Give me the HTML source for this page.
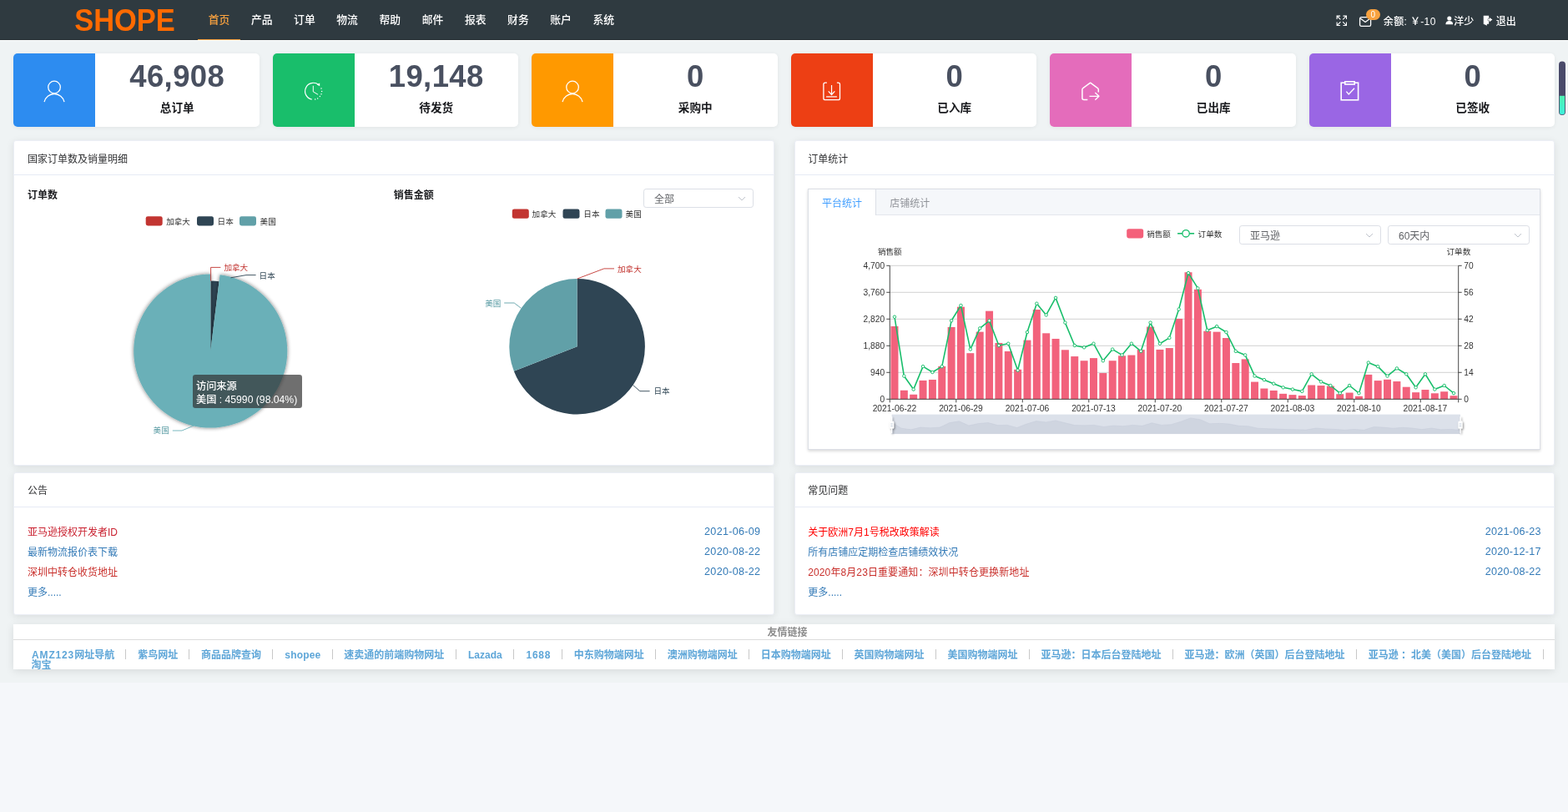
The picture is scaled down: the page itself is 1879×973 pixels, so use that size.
<!DOCTYPE html>
<html lang="zh-CN">
<head>
<meta charset="utf-8">
<title>SHOPE</title>
<style>
*{box-sizing:border-box;margin:0;padding:0}
html,body{width:1879px;height:973px;overflow:hidden;background:#f5f7fa}
body{font-family:"Liberation Sans","Noto Sans CJK SC",sans-serif;font-size:12px;color:#303133;position:relative}
#root{position:absolute;left:0;top:0;width:1879px;height:973px;overflow:hidden}
.abs{position:absolute}
.t{position:absolute;white-space:nowrap}
#topbg{position:absolute;left:0;top:0;width:1879px;height:818px;background:#eff3f4}
#nav{position:absolute;left:0;top:0;width:1879px;height:48px;background:#2f3a40;border-bottom:1px solid #273035}
#navline{position:absolute;left:0;top:48px;width:1879px;height:1px;background:#fbfcfc}
.nv{position:absolute;top:0;height:48px;width:51.2px;text-align:center;line-height:48.8px;font-size:12.8px;color:#fff;font-weight:500}
.nv.on{color:#f8a13f}
.nv.on:after{content:"";position:absolute;left:0;right:0;bottom:0;height:1.4px;background:#f8a13f}
.card{position:absolute;top:64px;height:88px;width:294.5px;background:#fff;border-radius:5px;overflow:hidden;box-shadow:0 1px 5px rgba(0,0,0,.06)}
.card .ic{position:absolute;left:0;top:0;width:98px;height:88px}
.card .ic svg{position:absolute;left:0;top:0}
.card .num{position:absolute;left:98px;right:0;top:8.3px;height:40px;line-height:40px;text-align:center;font-size:36.5px;font-weight:bold;color:#495060;letter-spacing:.4px}
.card .lab{position:absolute;left:98px;right:0;top:56.2px;height:20px;line-height:20px;text-align:center;font-size:13.6px;font-weight:bold;color:#17181c}
.panel{position:absolute;background:#fff;border:1px solid #ebeef5;border-radius:3px;box-shadow:0 2px 10px rgba(0,0,0,.09)}
.panel .hd{position:absolute;left:0;right:0;top:0;height:41px;border-bottom:1px solid #e6ebf5}
.sel{position:absolute;height:23px;border:1px solid #dcdfe6;border-radius:3.2px;background:#fff}
.sel span{position:absolute;left:12px;top:0;line-height:24px;font-size:12px;color:#606266}
.sel svg{position:absolute;right:8px;top:6px}
#tabs{position:absolute;left:968px;top:226px;width:878px;height:313px;background:#fff;border:1px solid #dcdfe6;box-shadow:0 1.6px 3.2px 0 rgba(0,0,0,.12),0 0 4.8px 0 rgba(0,0,0,.04)}
#tabs .th{position:absolute;left:0;right:0;top:0;height:31px;background:#f5f7fa;border-bottom:1px solid #e4e7ed}
#tabs .tb{position:absolute;top:0;height:31px;line-height:34.4px;font-size:12px;text-align:center;color:#909399}
#tabs .tb.on{left:0;width:81px;background:#fff;color:#409eff;border-right:1px solid #dcdfe6;height:31px}
.lk{position:absolute;font-size:12px;line-height:18px;white-space:nowrap}
.fl{position:absolute;top:778.5px;font-size:12px;font-weight:bold;line-height:12px;color:#5ea6d8;white-space:nowrap}
.fs{position:absolute;top:778px;width:1px;height:12px;background:#c8c8c8}
svg text{font-family:"Liberation Sans","Noto Sans CJK SC",sans-serif}
</style>
</head>
<body>
<div id="root">
<div id="topbg"></div>

<div id="nav">
<svg class="abs" style="left:86px;top:6px" width="130" height="38" viewBox="0 0 130 38"><text x="3.2" y="30.75" font-size="36" font-weight="bold" fill="#ff6a00" textLength="120.6" lengthAdjust="spacingAndGlyphs" style="font-family:'Liberation Sans',sans-serif">SHOPE</text></svg>
<div class="nv on" style="left:236.9px">首页</div>
<div class="nv" style="left:288.1px">产品</div>
<div class="nv" style="left:339.3px">订单</div>
<div class="nv" style="left:390.5px">物流</div>
<div class="nv" style="left:441.7px">帮助</div>
<div class="nv" style="left:492.9px">邮件</div>
<div class="nv" style="left:544.1px">报表</div>
<div class="nv" style="left:595.3px">财务</div>
<div class="nv" style="left:646.5px">账户</div>
<div class="nv" style="left:697.7px">系统</div>
<svg class="abs" style="left:1600.8px;top:17.8px" width="13.6" height="13.6" viewBox="0 0 15 15" fill="none" stroke="#fff" stroke-width="1.2" stroke-linecap="square">
<path d="M1.2 5V1.2H5M1.6 1.6L5.6 5.6M10 1.2h3.8V5M13.4 1.6L9.4 5.6M1.2 10v3.8H5M1.6 13.4L5.6 9.4M13.8 10v3.8H10M13.4 13.4L9.4 9.4"/></svg>
<svg class="abs" style="left:1628px;top:19px" width="17" height="14" viewBox="0 0 17 14" fill="none" stroke="#fff" stroke-width="1.3" stroke-linejoin="round">
<rect x="1.6" y="1.7" width="13" height="10.6" rx="1.6"/><path d="M2.2 2.9L8.1 7.4L14 2.9"/></svg>
<div class="abs" style="left:1636.5px;top:10.8px;width:17.4px;height:13.2px;border-radius:7px;background:#f8a23f;color:#fff;font-size:10px;line-height:13.2px;text-align:center">0</div>
<div class="t " style="top:16.50px;line-height:18px;font-size:12px;color:#fff;left:1657.80px;letter-spacing:.36px;font-weight:500;">余额: ￥-10</div>
<svg class="abs" style="left:1731.7px;top:19.4px" width="9.6" height="11" viewBox="0 0 11 13" fill="#fff"><circle cx="5.5" cy="3.6" r="3"/><path d="M0.3 12.2c0-3.4 2-5 5.2-5s5.2 1.6 5.2 5z"/></svg>
<div class="t " style="top:16.50px;line-height:18px;font-size:12px;color:#fff;left:1742.20px;font-weight:500;">洋少</div>
<svg class="abs" style="left:1776.8px;top:18px" width="12" height="13.4" viewBox="0 0 13 15" fill="#fff"><path d="M0.6 0.8h7.2v4.2h-1.6v2.6h1.6V12H5.2v2.4L0.6 12z"/><path d="M8.6 3.4L12.6 6.3L8.6 9.2V7.4H6.6V5.2h2z"/></svg>
<div class="t " style="top:16.50px;line-height:18px;font-size:12px;color:#fff;left:1792.80px;font-weight:500;">退出</div>
</div><div id="navline"></div>
<div class="card" style="left:16.0px"><div class="ic" style="background:#2d8cf0"><svg width="98" height="88" viewBox="0 0 98 88" fill="none" stroke="#fff" stroke-width="1.3"><circle cx="49.05" cy="40.5" r="7.3"/><path d="M37.05 58.1A12.3 12.3 0 0 1 61.05 58.1"/></svg></div><div class="num">46,908</div><div class="lab">总订单</div></div>
<div class="card" style="left:326.5px"><div class="ic" style="background:#19be6b"><svg width="98" height="88" viewBox="0 0 98 88" fill="none" stroke="#fff" stroke-width="1.2"><path d="M54.76 37.42A10.0 10.0 0 1 0 46.69 55.12"/><path d="M48.3 38.8v7.1l5.8 3.4" stroke-width="1"/><path d="M52.76 37.55L56.16 35.55L56.16 39.15z" fill="#fff" stroke="none"/><circle cx="58.00" cy="41.88" r="0.75" fill="#fff" stroke="none"/><circle cx="58.60" cy="45.47" r="0.75" fill="#fff" stroke="none"/><circle cx="58.00" cy="48.72" r="0.75" fill="#fff" stroke="none"/><circle cx="56.37" cy="51.59" r="0.75" fill="#fff" stroke="none"/><circle cx="53.60" cy="53.96" r="0.75" fill="#fff" stroke="none"/><circle cx="50.68" cy="55.08" r="0.75" fill="#fff" stroke="none"/></svg></div><div class="num">19,148</div><div class="lab">待发货</div></div>
<div class="card" style="left:637.0px"><div class="ic" style="background:#ff9900"><svg width="98" height="88" viewBox="0 0 98 88" fill="none" stroke="#fff" stroke-width="1.3"><circle cx="49.05" cy="40.5" r="7.3"/><path d="M37.05 58.1A12.3 12.3 0 0 1 61.05 58.1"/></svg></div><div class="num">0</div><div class="lab">采购中</div></div>
<div class="card" style="left:947.5px"><div class="ic" style="background:#ed3f14"><svg width="98" height="88" viewBox="0 0 98 88" fill="none" stroke="#fff" stroke-width="1.3"><path d="M42.9 35.2h-2a2 2 0 0 0-2 2v16.5a2 2 0 0 0 2 2h15.6a2 2 0 0 0 2-2V37.2a2 2 0 0 0-2-2h-1.6"/><path d="M48.55 37.9v11.4M44.7 45.3L48.55 49.5L52.4 45.3" stroke-width="1.2"/><path d="M42.1 51.9h12.8" stroke-width="1.8" stroke-opacity=".7"/></svg></div><div class="num">0</div><div class="lab">已入库</div></div>
<div class="card" style="left:1258.0px"><div class="ic" style="background:#e46cbb"><svg width="98" height="88" viewBox="0 0 98 88" fill="none" stroke="#fff" stroke-width="1.5" stroke-linejoin="round"><path d="M45.3 55.4h-4.4a2 2 0 0 1-2-2V43.2a2 2 0 0 1 .9-1.6l8.8-6.4l8.8 6.4a2 2 0 0 1 .9 1.6v3.4"/><path d="M47.5 51.3h11.4M54.3 47l4.7 4.3l-4.7 4.4" stroke-width="1.3"/></svg></div><div class="num">0</div><div class="lab">已出库</div></div>
<div class="card" style="left:1568.5px"><div class="ic" style="background:#9a66e4"><svg width="98" height="88" viewBox="0 0 98 88" fill="none" stroke="#fff" stroke-width="1.6"><rect x="38.2" y="35.2" width="20.4" height="20.6"/><rect x="42.8" y="33.8" width="11.4" height="3.2" fill="#9a66e4"/><path d="M44.4 45.6l2.8 3.4l6.8-7.2" stroke-width="1.3"/></svg></div><div class="num">0</div><div class="lab">已签收</div></div>
<svg class="abs" style="left:1864px;top:70px" width="15" height="72" viewBox="0 0 15 72"><defs><linearGradient id="tg" x1="0" y1="0" x2="0" y2="1"><stop offset="0" stop-color="#4df2b0"/><stop offset="1" stop-color="#3aeeea"/></linearGradient><clipPath id="pc"><rect x="4.7" y="4.2" width="6.6" height="63" rx="3.3"/></clipPath></defs><rect x="3.3" y="2.8" width="9.4" height="65.8" rx="4.7" fill="#f7f9fa"/><rect x="4" y="3.5" width="8" height="64.4" rx="4" fill="#4a4a6a"/><rect x="4.7" y="44.8" width="6.6" height="30" fill="url(#tg)" clip-path="url(#pc)"/></svg>
<div class="panel" style="left:16px;top:168px;width:911.5px;height:389.5px"><div class="hd"></div></div>
<div class="panel" style="left:952px;top:168px;width:911px;height:389.5px"><div class="hd"></div></div>
<div class="panel" style="left:16px;top:566px;width:911.5px;height:171px"><div class="hd"></div></div>
<div class="panel" style="left:952px;top:566px;width:911px;height:171px"><div class="hd"></div></div>
<div class="t " style="top:181.60px;line-height:18px;font-size:12px;color:#303133;left:33.00px;">国家订单数及销量明细</div>
<div class="t " style="top:181.60px;line-height:18px;font-size:12px;color:#303133;left:968.30px;">订单统计</div>
<div class="t " style="top:579.10px;line-height:18px;font-size:12px;color:#303133;left:33.00px;">公告</div>
<div class="t " style="top:579.10px;line-height:18px;font-size:12px;color:#303133;left:968.30px;">常见问题</div>
<div class="t " style="top:224.60px;line-height:18px;font-size:12px;color:#1b1c1f;font-weight:bold;left:33.00px;">订单数</div>
<div class="t " style="top:224.60px;line-height:18px;font-size:12px;color:#1b1c1f;font-weight:bold;left:471.80px;">销售金额</div>
<div class="sel" style="left:771px;top:226px;width:132px"><span>全部</span><svg width="10" height="10" viewBox="0 0 10 10" fill="none" stroke="#c0c4cc" stroke-width="1"><path d="M1 3l4 4l4-4"/></svg></div>
<div id="tabs"><div class="th"><div class="tb on">平台统计</div><div class="tb" style="left:81px;width:80.6px">店铺统计</div></div></div>
<div class="sel" style="left:1485px;top:270px;width:170px"><span>亚马逊</span><svg width="10" height="10" viewBox="0 0 10 10" fill="none" stroke="#c0c4cc" stroke-width="1"><path d="M1 3l4 4l4-4"/></svg></div>
<div class="sel" style="left:1663px;top:270px;width:170px"><span>60天内</span><svg width="10" height="10" viewBox="0 0 10 10" fill="none" stroke="#c0c4cc" stroke-width="1"><path d="M1 3l4 4l4-4"/></svg></div>
<div class="t " style="top:628.60px;line-height:18px;font-size:12px;color:#c9202f;left:33.00px;">亚马逊授权开发者ID</div>
<div class="t " style="top:628.00px;line-height:19px;font-size:12.6px;color:#337ab7;right:967.80px;letter-spacing:.27px;">2021-06-09</div>
<div class="t " style="top:652.60px;line-height:18px;font-size:12px;color:#337ab7;left:33.00px;">最新物流报价表下载</div>
<div class="t " style="top:652.00px;line-height:19px;font-size:12.6px;color:#337ab7;right:967.80px;letter-spacing:.27px;">2020-08-22</div>
<div class="t " style="top:676.60px;line-height:18px;font-size:12px;color:#c9302c;left:33.00px;">深圳中转仓收货地址</div>
<div class="t " style="top:676.00px;line-height:19px;font-size:12.6px;color:#337ab7;right:967.80px;letter-spacing:.27px;">2020-08-22</div>
<div class="t " style="top:700.60px;line-height:18px;font-size:12px;color:#337ab7;left:33.00px;">更多.....</div>
<div class="t " style="top:628.60px;line-height:18px;font-size:12px;color:#ff0000;left:968.30px;">关于欧洲7月1号税改政策解读</div>
<div class="t " style="top:628.00px;line-height:19px;font-size:12.6px;color:#337ab7;right:32.20px;letter-spacing:.27px;">2021-06-23</div>
<div class="t " style="top:652.60px;line-height:18px;font-size:12px;color:#337ab7;left:968.30px;">所有店铺应定期检查店铺绩效状况</div>
<div class="t " style="top:652.00px;line-height:19px;font-size:12.6px;color:#337ab7;right:32.20px;letter-spacing:.27px;">2020-12-17</div>
<div class="t " style="top:676.60px;line-height:18px;font-size:12px;color:#c9302c;left:968.30px;"><span style="letter-spacing:.1px">2020年8月23日重要通知：深圳中转仓更换新地址</span></div>
<div class="t " style="top:676.00px;line-height:19px;font-size:12.6px;color:#337ab7;right:32.20px;letter-spacing:.27px;">2020-08-22</div>
<div class="t " style="top:700.60px;line-height:18px;font-size:12px;color:#337ab7;left:968.30px;">更多.....</div>
<div class="abs" style="left:16px;top:748px;width:1847px;height:54px;background:#fff;overflow:hidden;box-shadow:0 2px 10px rgba(0,0,0,.1)"></div>
<div class="abs" style="left:16px;top:748px;width:1847px;height:54px;overflow:hidden">
<div class="abs" style="left:0;top:18px;width:1847px;height:1px;background:#dcdcdc"></div>
<div class="t" style="left:0;width:1855px;text-align:center;top:1.5px;line-height:16px;font-size:12px;font-weight:bold;color:#8c8c8c">友情链接</div>
<div class="fl" style="left:-78.40px;width:300px;text-align:center;top:30.5px"><span style="letter-spacing:.85px">AMZ123</span>网址导航</div>
<div class="fs" style="left:134.0px;top:30px"></div>
<div class="fl" style="left:23.20px;width:300px;text-align:center;top:30.5px">紫鸟网址</div>
<div class="fs" style="left:210.1px;top:30px"></div>
<div class="fl" style="left:111.10px;width:300px;text-align:center;top:30.5px">商品品牌查询</div>
<div class="fs" style="left:310.0px;top:30px"></div>
<div class="fl" style="left:196.90px;width:300px;text-align:center;top:30.5px"><span style="letter-spacing:.2px">shopee</span></div>
<div class="fs" style="left:382.1px;top:30px"></div>
<div class="fl" style="left:306.35px;width:300px;text-align:center;top:30.5px">速卖通的前端购物网址</div>
<div class="fs" style="left:530.0px;top:30px"></div>
<div class="fl" style="left:415.35px;width:300px;text-align:center;top:30.5px">Lazada</div>
<div class="fs" style="left:598.9px;top:30px"></div>
<div class="fl" style="left:478.95px;width:300px;text-align:center;top:30.5px"><span style="letter-spacing:.7px;margin-right:-.7px">1688</span></div>
<div class="fs" style="left:656.9px;top:30px"></div>
<div class="fl" style="left:563.75px;width:300px;text-align:center;top:30.5px">中东购物端网址</div>
<div class="fs" style="left:768.9px;top:30px"></div>
<div class="fl" style="left:675.75px;width:300px;text-align:center;top:30.5px">澳洲购物端网址</div>
<div class="fs" style="left:880.9px;top:30px"></div>
<div class="fl" style="left:787.70px;width:300px;text-align:center;top:30.5px">日本购物端网址</div>
<div class="fs" style="left:992.9px;top:30px"></div>
<div class="fl" style="left:899.55px;width:300px;text-align:center;top:30.5px">英国购物端网址</div>
<div class="fs" style="left:1104.9px;top:30px"></div>
<div class="fl" style="left:1011.55px;width:300px;text-align:center;top:30.5px">美国购物端网址</div>
<div class="fs" style="left:1217.1px;top:30px"></div>
<div class="fl" style="left:1153.60px;width:300px;text-align:center;top:30.5px">亚马逊：日本后台登陆地址</div>
<div class="fs" style="left:1389.1px;top:30px"></div>
<div class="fl" style="left:1349.45px;width:300px;text-align:center;top:30.5px">亚马逊：欧洲（英国）后台登陆地址</div>
<div class="fs" style="left:1609.2px;top:30px"></div>
<div class="fl" style="left:1571.35px;width:300px;text-align:center;top:30.5px">亚马逊 ：北美（美国）后台登陆地址</div>
<div class="fs" style="left:1832.9px;top:30px"></div>
<div class="fl" style="left:21.6px;top:42.6px">淘宝</div>
</div>
<svg class="abs" style="left:0;top:0" width="1879" height="973" viewBox="0 0 1879 973">
<defs><filter id="sh" x="-20%" y="-20%" width="140%" height="140%"><feGaussianBlur in="SourceAlpha" stdDeviation="2.7"/><feComponentTransfer><feFuncA type="linear" slope="0.55"/></feComponentTransfer><feMerge><feMergeNode/><feMergeNode in="SourceGraphic"/></feMerge></filter></defs>
<rect x="174.7" y="259.2" width="20" height="11.2" rx="2.4" fill="#c23531"/><text x="199.2" y="269.0" font-size="9.6" fill="#333">加拿大</text><rect x="236.0" y="259.2" width="20" height="11.2" rx="2.4" fill="#2f4554"/><text x="260.6" y="269.0" font-size="9.6" fill="#333">日本</text><rect x="287.0" y="259.2" width="20" height="11.2" rx="2.4" fill="#61a0a8"/><text x="311.6" y="269.0" font-size="9.6" fill="#333">美国</text>
<path d="M252.30 420.60L252.30 336.60A84 84 0 0 1 252.48 336.60Z" fill="#c23531" />
<path d="M252.30 420.60L252.48 336.60A84 84 0 0 1 262.61 337.24Z" fill="#2f4554" />
<path d="M252.30 420.60L263.59 329.30A92 92 0 1 1 252.30 328.60Z" fill="#6ab0b8" filter="url(#sh)"/>
<path d="M252.6 336.6V320.4H264.4" fill="none" stroke="#c23531" stroke-width="0.9"/>
<text x="268.4" y="324.3" font-size="9.6" fill="#c23531">加拿大</text>
<path d="M276.5 332.8L295 329.6H306.6" fill="none" stroke="#2f4554" stroke-width="0.9"/>
<text x="310.6" y="333.5" font-size="9.6" fill="#2f4554">日本</text>
<path d="M232.4 510L218 516H206.8" fill="none" stroke="#6ab0b8" stroke-width="0.9"/>
<text x="183.6" y="519.4" font-size="9.6" fill="#61a0a8">美国</text>
<rect x="613.8" y="250.6" width="20" height="11.2" rx="2.4" fill="#c23531"/><text x="637.6" y="260.4" font-size="9.6" fill="#333">加拿大</text><rect x="674.5" y="250.6" width="20" height="11.2" rx="2.4" fill="#2f4554"/><text x="699.3" y="260.4" font-size="9.6" fill="#333">日本</text><rect x="725.5" y="250.6" width="20" height="11.2" rx="2.4" fill="#61a0a8"/><text x="749.6" y="260.4" font-size="9.6" fill="#333">美国</text>
<path d="M691.60 415.30L691.60 334.00A81.3 81.3 0 1 1 615.85 444.83Z" fill="#2f4554" />
<path d="M691.60 415.30L615.85 444.83A81.3 81.3 0 0 1 691.60 334.00Z" fill="#61a0a8" />
<path d="M691.8 334L723.8 321.9H736" fill="none" stroke="#c23531" stroke-width="0.9"/>
<text x="740" y="326.2" font-size="9.6" fill="#c23531">加拿大</text>
<path d="M624.3 369.2L616.2 363H604.2" fill="none" stroke="#61a0a8" stroke-width="0.9"/>
<text x="581.2" y="366.8" font-size="9.6" fill="#61a0a8">美国</text>
<path d="M758.5 461.4L766.8 468.7H778.6" fill="none" stroke="#2f4554" stroke-width="0.9"/>
<text x="783.4" y="472.4" font-size="9.6" fill="#2f4554">日本</text>
<rect x="1350.2" y="274.2" width="20" height="11.2" rx="2.4" fill="#f4607a"/><text x="1374.2" y="284.0" font-size="9.6" fill="#333">销售额</text><path d="M1411.1 279.8h20" stroke="#19be6b" stroke-width="1.6"/><circle cx="1421.1" cy="279.8" r="4.2" fill="#fff" stroke="#19be6b" stroke-width="1.3"/><text x="1435.6" y="284.0" font-size="9.6" fill="#333">订单数</text>
<text x="1066.3" y="305.4" font-size="9.6" fill="#333" text-anchor="middle">销售额</text>
<text x="1747.9" y="305.4" font-size="9.6" fill="#333" text-anchor="middle">订单数</text>
<path d="M1066.3 446.30H1747.7" stroke="#ccc" stroke-width="0.9"/>
<path d="M1066.3 414.30H1747.7" stroke="#ccc" stroke-width="0.9"/>
<path d="M1066.3 382.30H1747.7" stroke="#ccc" stroke-width="0.9"/>
<path d="M1066.3 350.30H1747.7" stroke="#ccc" stroke-width="0.9"/>
<path d="M1066.3 318.30H1747.7" stroke="#ccc" stroke-width="0.9"/>
<rect x="1067.48" y="390.98" width="9.0" height="87.32" fill="#f2627c"/>
<rect x="1078.84" y="467.75" width="9.0" height="10.55" fill="#f2627c"/>
<rect x="1090.19" y="472.75" width="9.0" height="5.55" fill="#f2627c"/>
<rect x="1101.55" y="455.93" width="9.0" height="22.37" fill="#f2627c"/>
<rect x="1112.90" y="454.98" width="9.0" height="23.32" fill="#f2627c"/>
<rect x="1124.26" y="438.91" width="9.0" height="39.39" fill="#f2627c"/>
<rect x="1135.62" y="391.93" width="9.0" height="86.37" fill="#f2627c"/>
<rect x="1146.97" y="367.70" width="9.0" height="110.60" fill="#f2627c"/>
<rect x="1158.33" y="423.19" width="9.0" height="55.11" fill="#f2627c"/>
<rect x="1169.69" y="397.65" width="9.0" height="80.65" fill="#f2627c"/>
<rect x="1181.05" y="372.67" width="9.0" height="105.63" fill="#f2627c"/>
<rect x="1192.40" y="410.96" width="9.0" height="67.34" fill="#f2627c"/>
<rect x="1203.76" y="420.97" width="9.0" height="57.33" fill="#f2627c"/>
<rect x="1215.12" y="442.79" width="9.0" height="35.51" fill="#f2627c"/>
<rect x="1226.47" y="407.63" width="9.0" height="70.67" fill="#f2627c"/>
<rect x="1237.83" y="371.03" width="9.0" height="107.27" fill="#f2627c"/>
<rect x="1249.18" y="399.32" width="9.0" height="78.98" fill="#f2627c"/>
<rect x="1260.54" y="405.96" width="9.0" height="72.34" fill="#f2627c"/>
<rect x="1271.90" y="419.30" width="9.0" height="59.00" fill="#f2627c"/>
<rect x="1283.25" y="427.07" width="9.0" height="51.23" fill="#f2627c"/>
<rect x="1294.61" y="432.24" width="9.0" height="46.06" fill="#f2627c"/>
<rect x="1305.97" y="429.11" width="9.0" height="49.19" fill="#f2627c"/>
<rect x="1317.33" y="447.05" width="9.0" height="31.25" fill="#f2627c"/>
<rect x="1328.68" y="432.24" width="9.0" height="46.06" fill="#f2627c"/>
<rect x="1340.04" y="426.32" width="9.0" height="51.98" fill="#f2627c"/>
<rect x="1351.39" y="425.57" width="9.0" height="52.73" fill="#f2627c"/>
<rect x="1362.75" y="419.10" width="9.0" height="59.20" fill="#f2627c"/>
<rect x="1374.11" y="391.56" width="9.0" height="86.74" fill="#f2627c"/>
<rect x="1385.46" y="418.93" width="9.0" height="59.37" fill="#f2627c"/>
<rect x="1396.82" y="417.06" width="9.0" height="61.24" fill="#f2627c"/>
<rect x="1408.18" y="381.93" width="9.0" height="96.37" fill="#f2627c"/>
<rect x="1419.53" y="326.27" width="9.0" height="152.03" fill="#f2627c"/>
<rect x="1430.89" y="346.79" width="9.0" height="131.51" fill="#f2627c"/>
<rect x="1442.25" y="396.73" width="9.0" height="81.57" fill="#f2627c"/>
<rect x="1453.61" y="397.65" width="9.0" height="80.65" fill="#f2627c"/>
<rect x="1464.96" y="405.04" width="9.0" height="73.26" fill="#f2627c"/>
<rect x="1476.32" y="435.03" width="9.0" height="43.27" fill="#f2627c"/>
<rect x="1487.67" y="430.40" width="9.0" height="47.90" fill="#f2627c"/>
<rect x="1499.03" y="457.57" width="9.0" height="20.73" fill="#f2627c"/>
<rect x="1510.39" y="465.53" width="9.0" height="12.77" fill="#f2627c"/>
<rect x="1521.74" y="467.95" width="9.0" height="10.35" fill="#f2627c"/>
<rect x="1533.10" y="471.83" width="9.0" height="6.47" fill="#f2627c"/>
<rect x="1544.46" y="473.13" width="9.0" height="5.17" fill="#f2627c"/>
<rect x="1555.82" y="474.04" width="9.0" height="4.26" fill="#f2627c"/>
<rect x="1567.17" y="461.48" width="9.0" height="16.82" fill="#f2627c"/>
<rect x="1578.53" y="462.03" width="9.0" height="16.27" fill="#f2627c"/>
<rect x="1589.88" y="462.57" width="9.0" height="15.73" fill="#f2627c"/>
<rect x="1601.24" y="472.21" width="9.0" height="6.09" fill="#f2627c"/>
<rect x="1612.60" y="470.54" width="9.0" height="7.76" fill="#f2627c"/>
<rect x="1623.95" y="474.79" width="9.0" height="3.51" fill="#f2627c"/>
<rect x="1635.31" y="448.89" width="9.0" height="29.41" fill="#f2627c"/>
<rect x="1646.67" y="456.10" width="9.0" height="22.20" fill="#f2627c"/>
<rect x="1658.03" y="454.81" width="9.0" height="23.49" fill="#f2627c"/>
<rect x="1669.38" y="457.02" width="9.0" height="21.28" fill="#f2627c"/>
<rect x="1680.74" y="463.70" width="9.0" height="14.60" fill="#f2627c"/>
<rect x="1692.10" y="470.16" width="9.0" height="8.14" fill="#f2627c"/>
<rect x="1703.45" y="467.03" width="9.0" height="11.27" fill="#f2627c"/>
<rect x="1714.81" y="471.29" width="9.0" height="7.01" fill="#f2627c"/>
<rect x="1726.16" y="469.24" width="9.0" height="9.06" fill="#f2627c"/>
<rect x="1737.52" y="474.21" width="9.0" height="4.09" fill="#f2627c"/>
<path d="M1066.3 318.3V478.3M1747.7 318.3V478.3M1066.3 478.3H1747.7" stroke="#333" stroke-width="0.9" fill="none"/>
<path d="M1062.3 478.30H1066.3M1747.7 478.30H1751.7" stroke="#333" stroke-width="0.9"/>
<text x="1060.1" y="481.90" font-size="10.2" fill="#333" text-anchor="end">0</text>
<text x="1754.3" y="481.90" font-size="10.2" fill="#333">0</text>
<path d="M1062.3 446.30H1066.3M1747.7 446.30H1751.7" stroke="#333" stroke-width="0.9"/>
<text x="1060.1" y="449.90" font-size="10.2" fill="#333" text-anchor="end">940</text>
<text x="1754.3" y="449.90" font-size="10.2" fill="#333">14</text>
<path d="M1062.3 414.30H1066.3M1747.7 414.30H1751.7" stroke="#333" stroke-width="0.9"/>
<text x="1060.1" y="417.90" font-size="10.2" fill="#333" text-anchor="end">1,880</text>
<text x="1754.3" y="417.90" font-size="10.2" fill="#333">28</text>
<path d="M1062.3 382.30H1066.3M1747.7 382.30H1751.7" stroke="#333" stroke-width="0.9"/>
<text x="1060.1" y="385.90" font-size="10.2" fill="#333" text-anchor="end">2,820</text>
<text x="1754.3" y="385.90" font-size="10.2" fill="#333">42</text>
<path d="M1062.3 350.30H1066.3M1747.7 350.30H1751.7" stroke="#333" stroke-width="0.9"/>
<text x="1060.1" y="353.90" font-size="10.2" fill="#333" text-anchor="end">3,760</text>
<text x="1754.3" y="353.90" font-size="10.2" fill="#333">56</text>
<path d="M1062.3 318.30H1066.3M1747.7 318.30H1751.7" stroke="#333" stroke-width="0.9"/>
<text x="1060.1" y="321.90" font-size="10.2" fill="#333" text-anchor="end">4,700</text>
<text x="1754.3" y="321.90" font-size="10.2" fill="#333">70</text>
<path d="M1066.30 478.3v4" stroke="#333" stroke-width="0.9"/>
<text x="1071.98" y="493.4" font-size="10.3" fill="#333" text-anchor="middle">2021-06-22</text>
<path d="M1145.80 478.3v4" stroke="#333" stroke-width="0.9"/>
<text x="1151.47" y="493.4" font-size="10.3" fill="#333" text-anchor="middle">2021-06-29</text>
<path d="M1225.29 478.3v4" stroke="#333" stroke-width="0.9"/>
<text x="1230.97" y="493.4" font-size="10.3" fill="#333" text-anchor="middle">2021-07-06</text>
<path d="M1304.79 478.3v4" stroke="#333" stroke-width="0.9"/>
<text x="1310.47" y="493.4" font-size="10.3" fill="#333" text-anchor="middle">2021-07-13</text>
<path d="M1384.29 478.3v4" stroke="#333" stroke-width="0.9"/>
<text x="1389.96" y="493.4" font-size="10.3" fill="#333" text-anchor="middle">2021-07-20</text>
<path d="M1463.78 478.3v4" stroke="#333" stroke-width="0.9"/>
<text x="1469.46" y="493.4" font-size="10.3" fill="#333" text-anchor="middle">2021-07-27</text>
<path d="M1543.28 478.3v4" stroke="#333" stroke-width="0.9"/>
<text x="1548.96" y="493.4" font-size="10.3" fill="#333" text-anchor="middle">2021-08-03</text>
<path d="M1622.78 478.3v4" stroke="#333" stroke-width="0.9"/>
<text x="1628.45" y="493.4" font-size="10.3" fill="#333" text-anchor="middle">2021-08-10</text>
<path d="M1702.27 478.3v4" stroke="#333" stroke-width="0.9"/>
<text x="1707.95" y="493.4" font-size="10.3" fill="#333" text-anchor="middle">2021-08-17</text>
<path d="M1747.7 478.3v4" stroke="#333" stroke-width="0.9"/>
<polyline points="1071.98,379.71 1083.34,450.57 1094.69,466.57 1106.05,439.14 1117.40,446.00 1128.76,439.14 1140.12,384.29 1151.47,366.00 1162.83,418.57 1174.19,393.43 1185.55,384.29 1196.90,414.00 1208.26,411.71 1219.62,443.71 1230.97,398.00 1242.33,363.71 1253.68,377.43 1265.04,356.86 1276.40,386.57 1287.75,414.00 1299.11,416.29 1310.47,411.71 1321.83,432.29 1333.18,418.57 1344.54,425.43 1355.89,411.71 1367.25,420.86 1378.61,386.57 1389.96,411.71 1401.32,404.86 1412.68,370.57 1424.03,327.14 1435.39,345.43 1446.75,395.71 1458.11,391.14 1469.46,398.00 1480.82,420.86 1492.17,425.43 1503.53,450.57 1514.89,455.14 1526.24,459.71 1537.60,464.29 1548.96,466.57 1560.32,468.86 1571.67,448.29 1583.03,457.43 1594.38,462.00 1605.74,471.14 1617.10,462.00 1628.45,471.14 1639.81,434.57 1651.17,439.14 1662.53,450.57 1673.88,441.43 1685.24,448.29 1696.60,464.29 1707.95,448.29 1719.31,466.57 1730.66,462.00 1742.02,471.14" fill="none" stroke="#19be6b" stroke-width="1.6" stroke-linejoin="round"/>
<circle cx="1071.98" cy="379.71" r="1.75" fill="#fff" stroke="#19be6b" stroke-width="0.95"/>
<circle cx="1083.34" cy="450.57" r="1.75" fill="#fff" stroke="#19be6b" stroke-width="0.95"/>
<circle cx="1094.69" cy="466.57" r="1.75" fill="#fff" stroke="#19be6b" stroke-width="0.95"/>
<circle cx="1106.05" cy="439.14" r="1.75" fill="#fff" stroke="#19be6b" stroke-width="0.95"/>
<circle cx="1117.40" cy="446.00" r="1.75" fill="#fff" stroke="#19be6b" stroke-width="0.95"/>
<circle cx="1128.76" cy="439.14" r="1.75" fill="#fff" stroke="#19be6b" stroke-width="0.95"/>
<circle cx="1140.12" cy="384.29" r="1.75" fill="#fff" stroke="#19be6b" stroke-width="0.95"/>
<circle cx="1151.47" cy="366.00" r="1.75" fill="#fff" stroke="#19be6b" stroke-width="0.95"/>
<circle cx="1162.83" cy="418.57" r="1.75" fill="#fff" stroke="#19be6b" stroke-width="0.95"/>
<circle cx="1174.19" cy="393.43" r="1.75" fill="#fff" stroke="#19be6b" stroke-width="0.95"/>
<circle cx="1185.55" cy="384.29" r="1.75" fill="#fff" stroke="#19be6b" stroke-width="0.95"/>
<circle cx="1196.90" cy="414.00" r="1.75" fill="#fff" stroke="#19be6b" stroke-width="0.95"/>
<circle cx="1208.26" cy="411.71" r="1.75" fill="#fff" stroke="#19be6b" stroke-width="0.95"/>
<circle cx="1219.62" cy="443.71" r="1.75" fill="#fff" stroke="#19be6b" stroke-width="0.95"/>
<circle cx="1230.97" cy="398.00" r="1.75" fill="#fff" stroke="#19be6b" stroke-width="0.95"/>
<circle cx="1242.33" cy="363.71" r="1.75" fill="#fff" stroke="#19be6b" stroke-width="0.95"/>
<circle cx="1253.68" cy="377.43" r="1.75" fill="#fff" stroke="#19be6b" stroke-width="0.95"/>
<circle cx="1265.04" cy="356.86" r="1.75" fill="#fff" stroke="#19be6b" stroke-width="0.95"/>
<circle cx="1276.40" cy="386.57" r="1.75" fill="#fff" stroke="#19be6b" stroke-width="0.95"/>
<circle cx="1287.75" cy="414.00" r="1.75" fill="#fff" stroke="#19be6b" stroke-width="0.95"/>
<circle cx="1299.11" cy="416.29" r="1.75" fill="#fff" stroke="#19be6b" stroke-width="0.95"/>
<circle cx="1310.47" cy="411.71" r="1.75" fill="#fff" stroke="#19be6b" stroke-width="0.95"/>
<circle cx="1321.83" cy="432.29" r="1.75" fill="#fff" stroke="#19be6b" stroke-width="0.95"/>
<circle cx="1333.18" cy="418.57" r="1.75" fill="#fff" stroke="#19be6b" stroke-width="0.95"/>
<circle cx="1344.54" cy="425.43" r="1.75" fill="#fff" stroke="#19be6b" stroke-width="0.95"/>
<circle cx="1355.89" cy="411.71" r="1.75" fill="#fff" stroke="#19be6b" stroke-width="0.95"/>
<circle cx="1367.25" cy="420.86" r="1.75" fill="#fff" stroke="#19be6b" stroke-width="0.95"/>
<circle cx="1378.61" cy="386.57" r="1.75" fill="#fff" stroke="#19be6b" stroke-width="0.95"/>
<circle cx="1389.96" cy="411.71" r="1.75" fill="#fff" stroke="#19be6b" stroke-width="0.95"/>
<circle cx="1401.32" cy="404.86" r="1.75" fill="#fff" stroke="#19be6b" stroke-width="0.95"/>
<circle cx="1412.68" cy="370.57" r="1.75" fill="#fff" stroke="#19be6b" stroke-width="0.95"/>
<circle cx="1424.03" cy="327.14" r="1.75" fill="#fff" stroke="#19be6b" stroke-width="0.95"/>
<circle cx="1435.39" cy="345.43" r="1.75" fill="#fff" stroke="#19be6b" stroke-width="0.95"/>
<circle cx="1446.75" cy="395.71" r="1.75" fill="#fff" stroke="#19be6b" stroke-width="0.95"/>
<circle cx="1458.11" cy="391.14" r="1.75" fill="#fff" stroke="#19be6b" stroke-width="0.95"/>
<circle cx="1469.46" cy="398.00" r="1.75" fill="#fff" stroke="#19be6b" stroke-width="0.95"/>
<circle cx="1480.82" cy="420.86" r="1.75" fill="#fff" stroke="#19be6b" stroke-width="0.95"/>
<circle cx="1492.17" cy="425.43" r="1.75" fill="#fff" stroke="#19be6b" stroke-width="0.95"/>
<circle cx="1503.53" cy="450.57" r="1.75" fill="#fff" stroke="#19be6b" stroke-width="0.95"/>
<circle cx="1514.89" cy="455.14" r="1.75" fill="#fff" stroke="#19be6b" stroke-width="0.95"/>
<circle cx="1526.24" cy="459.71" r="1.75" fill="#fff" stroke="#19be6b" stroke-width="0.95"/>
<circle cx="1537.60" cy="464.29" r="1.75" fill="#fff" stroke="#19be6b" stroke-width="0.95"/>
<circle cx="1548.96" cy="466.57" r="1.75" fill="#fff" stroke="#19be6b" stroke-width="0.95"/>
<circle cx="1560.32" cy="468.86" r="1.75" fill="#fff" stroke="#19be6b" stroke-width="0.95"/>
<circle cx="1571.67" cy="448.29" r="1.75" fill="#fff" stroke="#19be6b" stroke-width="0.95"/>
<circle cx="1583.03" cy="457.43" r="1.75" fill="#fff" stroke="#19be6b" stroke-width="0.95"/>
<circle cx="1594.38" cy="462.00" r="1.75" fill="#fff" stroke="#19be6b" stroke-width="0.95"/>
<circle cx="1605.74" cy="471.14" r="1.75" fill="#fff" stroke="#19be6b" stroke-width="0.95"/>
<circle cx="1617.10" cy="462.00" r="1.75" fill="#fff" stroke="#19be6b" stroke-width="0.95"/>
<circle cx="1628.45" cy="471.14" r="1.75" fill="#fff" stroke="#19be6b" stroke-width="0.95"/>
<circle cx="1639.81" cy="434.57" r="1.75" fill="#fff" stroke="#19be6b" stroke-width="0.95"/>
<circle cx="1651.17" cy="439.14" r="1.75" fill="#fff" stroke="#19be6b" stroke-width="0.95"/>
<circle cx="1662.53" cy="450.57" r="1.75" fill="#fff" stroke="#19be6b" stroke-width="0.95"/>
<circle cx="1673.88" cy="441.43" r="1.75" fill="#fff" stroke="#19be6b" stroke-width="0.95"/>
<circle cx="1685.24" cy="448.29" r="1.75" fill="#fff" stroke="#19be6b" stroke-width="0.95"/>
<circle cx="1696.60" cy="464.29" r="1.75" fill="#fff" stroke="#19be6b" stroke-width="0.95"/>
<circle cx="1707.95" cy="448.29" r="1.75" fill="#fff" stroke="#19be6b" stroke-width="0.95"/>
<circle cx="1719.31" cy="466.57" r="1.75" fill="#fff" stroke="#19be6b" stroke-width="0.95"/>
<circle cx="1730.66" cy="462.00" r="1.75" fill="#fff" stroke="#19be6b" stroke-width="0.95"/>
<circle cx="1742.02" cy="471.14" r="1.75" fill="#fff" stroke="#19be6b" stroke-width="0.95"/>
<rect x="1068.6" y="496.6" width="681.4" height="23.0" fill="#dce1ea"/>
<polygon points="1068.6,519.6 1068.6,506.2 1080.1,513.2 1091.7,514.8 1103.2,512.1 1114.8,512.8 1126.3,512.1 1137.9,506.6 1149.4,504.8 1161.0,510.0 1172.5,507.5 1184.1,506.6 1195.6,509.6 1207.2,509.4 1218.7,512.5 1230.3,508.0 1241.8,504.6 1253.4,505.9 1264.9,503.9 1276.5,506.8 1288.0,509.6 1299.6,509.8 1311.1,509.4 1322.7,511.4 1334.2,510.0 1345.8,510.7 1357.3,509.4 1368.9,510.3 1380.4,506.8 1392.0,509.4 1403.5,508.7 1415.1,505.2 1426.6,500.9 1438.2,502.7 1449.7,507.8 1461.3,507.3 1472.8,508.0 1484.4,510.3 1495.9,510.7 1507.5,513.2 1519.0,513.7 1530.6,514.1 1542.1,514.6 1553.7,514.8 1565.2,515.1 1576.8,513.0 1588.3,513.9 1599.9,514.4 1611.4,515.3 1623.0,514.4 1634.5,515.3 1646.1,511.6 1657.6,512.1 1669.2,513.2 1680.7,512.3 1692.3,513.0 1703.8,514.6 1715.4,513.0 1726.9,514.8 1738.5,514.4 1750.0,515.3 1750.0,519.6" fill="#cfd5e0" stroke="#c4cbd8" stroke-width="0.5"/>
<g filter="url(#hs)"><path d="M1068.6 499.2V519.2" stroke="#fff" stroke-width="1.2"/><rect x="1066.0" y="504.8" width="5.2" height="8.8" rx="1.2" fill="#fff"/><path d="M1067.3 508.0h2.6M1067.3 510.4h2.6" stroke="#a7b7cc" stroke-width="0.7"/></g>
<g filter="url(#hs)"><path d="M1750.0 499.2V519.2" stroke="#fff" stroke-width="1.2"/><rect x="1747.4" y="504.8" width="5.2" height="8.8" rx="1.2" fill="#fff"/><path d="M1748.7 508.0h2.6M1748.7 510.4h2.6" stroke="#a7b7cc" stroke-width="0.7"/></g>
<defs><filter id="hs" x="-200%" y="-30%" width="500%" height="160%"><feDropShadow dx="1.2" dy="1.2" stdDeviation="1" flood-color="#000" flood-opacity=".45"/></filter></defs>
</svg>
<div class="abs" style="left:231px;top:449px;width:131px;height:40px;border-radius:3.2px;background:rgba(50,50,50,.7);color:#fff;font-size:12.2px;font-weight:500;line-height:16.4px;padding:5.7px 4px;white-space:nowrap">访问来源<br>美国 : 45990 (98.04%)</div>
</div>
</body>
</html>
